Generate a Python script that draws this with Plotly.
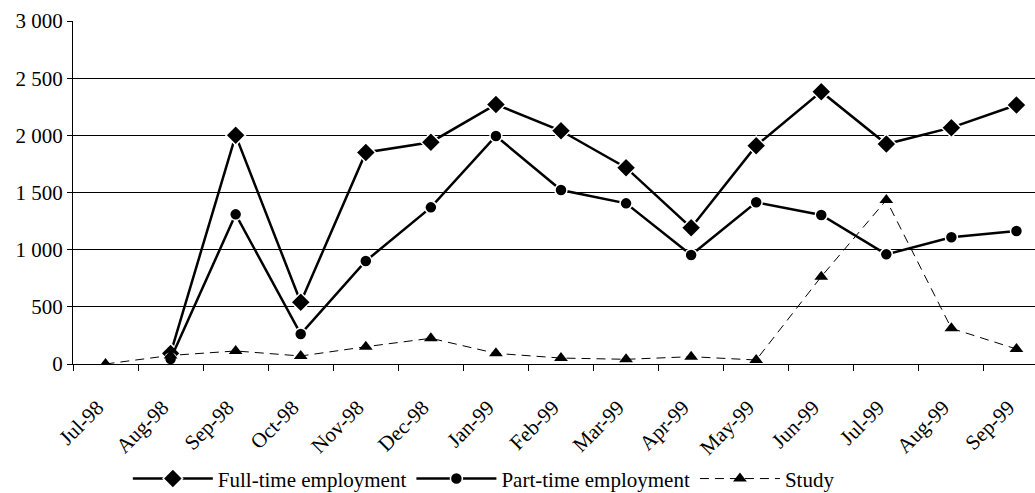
import plotly.graph_objects as go

# Monthly counts by activity, Jul-98 to Sep-99
months = ["Jul-98", "Aug-98", "Sep-98", "Oct-98", "Nov-98", "Dec-98", "Jan-99",
          "Feb-99", "Mar-99", "Apr-99", "May-99", "Jun-99", "Jul-99", "Aug-99", "Sep-99"]
full_time = [None, 93, 2000, 540, 1850, 1940, 2270, 2040, 1717, 1192, 1909, 2382, 1924, 2067, 2265]
part_time = [None, 44, 1309, 262, 901, 1370, 1994, 1522, 1405, 953, 1414, 1303, 959, 1108, 1163]
study = [0, 75, 114, 70, 151, 225, 93, 52, 41, 64, 35, 764, 1434, 312, 131]

y_tick_vals = [0, 500, 1000, 1500, 2000, 2500, 3000]
y_tick_text = ["0", "500", "1 000", "1 500", "2 000", "2 500", "3 000"]

FONT = "Liberation Serif"
FSIZE = 21

fig = go.Figure()
fig.add_trace(go.Scatter(
    x=months, y=full_time, name="Full-time employment", mode="lines+markers",
    line=dict(color="black", width=2.5),
    marker=dict(symbol="diamond", size=15, color="black", line=dict(color="white", width=1.5)),
    connectgaps=False,
))
fig.add_trace(go.Scatter(
    x=months, y=part_time, name="Part-time employment", mode="lines+markers",
    line=dict(color="black", width=2.5),
    marker=dict(symbol="circle", size=12, color="black", line=dict(color="white", width=1.5)),
))
fig.add_trace(go.Scatter(
    x=months, y=study, name="Study", mode="lines+markers",
    line=dict(color="black", width=1, dash="9px,6px"),
    marker=dict(symbol="triangle-up", size=12, color="black"),
))

fig.update_layout(
    width=1035, height=493,
    margin=dict(l=73, r=0, t=21, b=129, autoexpand=False),
    paper_bgcolor="white", plot_bgcolor="white",
    font=dict(family=FONT, size=FSIZE, color="black"),
    showlegend=True,
    legend=dict(
        orientation="h", x=0.057, xanchor="left", y=-0.335, yanchor="middle",
        font=dict(family=FONT, size=FSIZE, color="black"),
        itemwidth=80, traceorder="normal", bgcolor="rgba(0,0,0,0)",
    ),
    xaxis=dict(
        type="category", categoryorder="array", categoryarray=months,
        range=[-0.5, 14.285],
        showgrid=False, zeroline=False,
        showline=True, linecolor="black", linewidth=1,
        ticks="outside", tickson="boundaries", ticklen=6, tickcolor="black", tickwidth=1,
        tickangle=-45, tickfont=dict(family=FONT, size=FSIZE, color="black"),
        ticklabelstandoff=22, ticklabelshift=-8,
    ),
    yaxis=dict(
        range=[0, 3000], tickvals=y_tick_vals, ticktext=y_tick_text,
        showgrid=True, gridcolor="black", gridwidth=1, zeroline=False,
        showline=True, linecolor="black", linewidth=1,
        ticks="outside", ticklen=5, tickcolor="black", tickwidth=1,
        tickfont=dict(family=FONT, size=FSIZE, color="black"),
    ),
)

fig.write_html("out.html")
